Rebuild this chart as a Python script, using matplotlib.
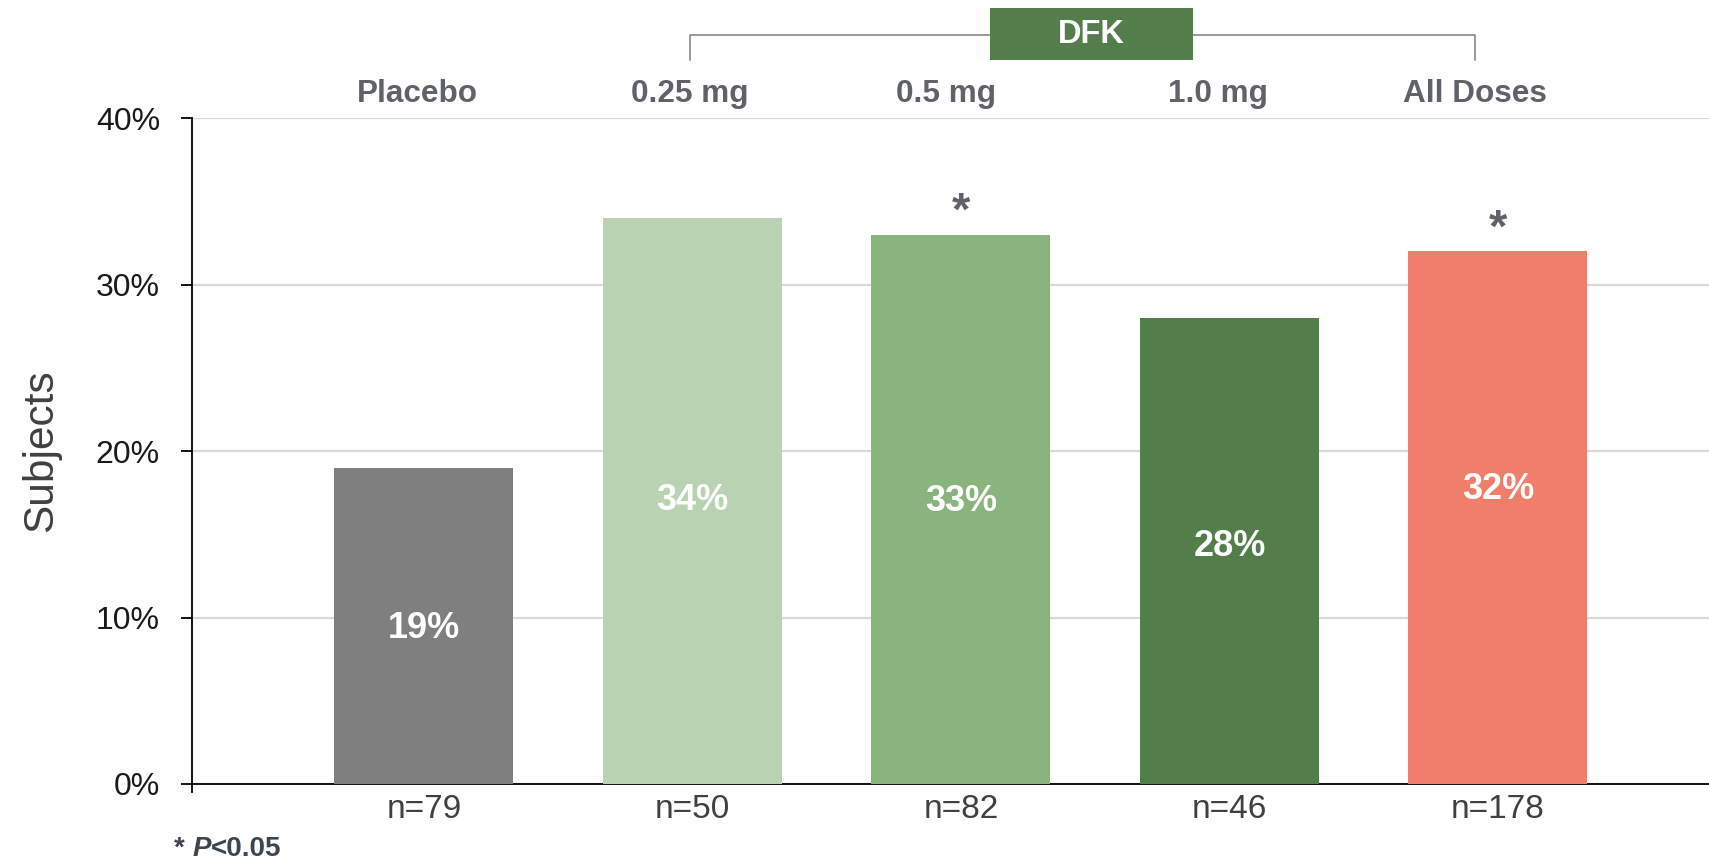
import matplotlib
matplotlib.use("Agg")
import matplotlib.pyplot as plt
from matplotlib.patches import Rectangle
from matplotlib.lines import Line2D

plt.rcParams["font.family"] = ["Liberation Sans", "DejaVu Sans"]

# Data
groups = ["Placebo", "0.25 mg", "0.5 mg", "1.0 mg", "All Doses"]
responders_pct = [19, 34, 33, 28, 32]
n_labels = ["n=79", "n=50", "n=82", "n=46", "n=178"]
significant = [False, False, True, False, True]
y_ticks = [0, 10, 20, 30, 40]
bracket_title = "DFK"

colors = ["#7f7f7f", "#b9d3b2", "#8ab47e", "#537d4a", "#ef7f6a"]
header_shift = [-0.024, -0.01, -0.057, -0.043, -0.087]
label_frac = [0.49, 0.5, 0.515, 0.51, 0.553]

fig = plt.figure(figsize=(17.09, 8.66), dpi=100)
ax = fig.add_axes([0.1123, 0.0947, 0.8877, 0.769])

x = list(range(len(groups)))
ax.bar(x, responders_pct, width=0.667, color=colors, zorder=3)

ax.set_xlim(-0.864, 4.786)
ax.set_ylim(0, 40)

# Grid and axes styling
ax.set_yticks(y_ticks)
ax.set_yticklabels([f"{t}%" for t in y_ticks], fontsize=23, color="#1a1a1a")
ax.yaxis.grid(True, color="#d9d9d9", linewidth=1.6, zorder=0)
ax.set_axisbelow(True)
for side in ("top", "right"):
    ax.spines[side].set_visible(False)
for side in ("left", "bottom"):
    ax.spines[side].set_color("#000000")
    ax.spines[side].set_linewidth(1.3)
ax.tick_params(axis="y", length=8, width=1.3, color="#000000", pad=15)
ax.set_xticks(x)
ax.set_xticklabels(n_labels, fontsize=24, color="#404040")
ax.tick_params(axis="x", length=0, pad=7)

# small stub of the y axis below zero
ax.add_line(Line2D([-0.864, -0.864], [0, -0.5], color="#000000",
                   linewidth=1.3, clip_on=False))

# Value labels inside bars and significance markers
for xi, v, sig, fr in zip(x, responders_pct, significant, label_frac):
    ax.text(xi, v * fr, f"{v}%", ha="center", va="center", fontsize=26,
            fontweight="bold", color="white", zorder=4)
    if sig:
        ax.text(xi, v + 0.6, "*", ha="center", va="baseline", fontsize=34,
                fontweight="bold", color="#5f6369", zorder=4)

# Group headers above the plot
for xi, name, dx in zip(x, groups, header_shift):
    ax.text(xi + dx, 41.45, name, ha="center", va="center", fontsize=22.7,
            fontweight="bold", color="#5f6369", clip_on=False)

# Bracket grouping the active doses
bx0 = x[1] + header_shift[1]
bx1 = x[4] + header_shift[4]
by_top, by_bot = 44.98, 43.48
ax.add_line(Line2D([bx0, bx0, bx1, bx1], [by_bot, by_top, by_top, by_bot],
                   color="#7f7f7f", linewidth=1.1, clip_on=False, zorder=2))
box_x0 = (990 - 424) / 268.5
box_x1 = (1193 - 424) / 268.5
box_y0 = 43.48
box_y1 = 46.6
ax.add_patch(Rectangle((box_x0, box_y0), box_x1 - box_x0, box_y1 - box_y0,
                       facecolor="#537d4a", edgecolor="none", clip_on=False,
                       zorder=3))
ax.text((box_x0 + box_x1) / 2, (box_y0 + box_y1) / 2, bracket_title,
        ha="center", va="center", fontsize=23.5, fontweight="bold",
        color="white", clip_on=False, zorder=4)

# Axis title
fig.text(0.024, 0.48, "Subjects", rotation=90, ha="center", va="center",
         fontsize=30.5, color="#404040")

# Footnote: "* P<0.05" with italic P
foot_style = dict(fontsize=20, fontweight="bold", color="#3c4650")
foot_y = 0.012
t1 = fig.text(0.102, foot_y, "* ", ha="left", va="baseline", **foot_style)
fig.canvas.draw()
r = fig.canvas.get_renderer()
bb1 = t1.get_window_extent(r)
t2 = fig.text(bb1.x1 / fig.bbox.width, foot_y, "P", ha="left",
              va="baseline", fontstyle="italic", **foot_style)
fig.canvas.draw()
bb2 = t2.get_window_extent(r)
fig.text(bb2.x1 / fig.bbox.width, foot_y, "<0.05", ha="left",
         va="baseline", **foot_style)

fig.savefig("out.png", dpi=100)
